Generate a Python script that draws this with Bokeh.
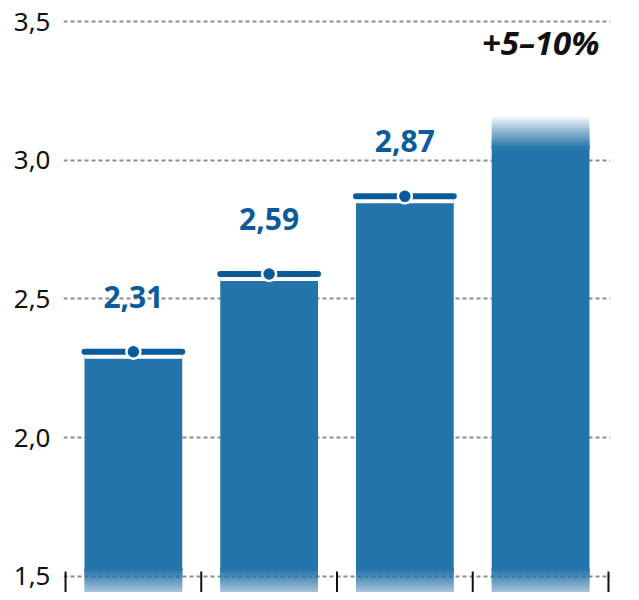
import numpy as np
from bokeh.plotting import figure
from bokeh.models import Range1d, FixedTicker
from bokeh.core.properties import value
from bokeh.embed import file_html
from bokeh.resources import INLINE

# ---- data ----
periods = ["1", "2", "3", "4"]
actual = [2.31, 2.59, 2.87]
value_labels = ["2,31", "2,59", "2,87"]
forecast_solid = 3.04
forecast_top = 3.16
forecast_label = "+5–10%"
y_ticks = [1.5, 2.0, 2.5, 3.0, 3.5]
y_tick_labels = ["1,5", "2,0", "2,5", "3,0", "3,5"]

BAR = "#2474ac"
DARK = "#0b5b9b"
FONT = "Noto Sans"

n = len(periods)
xs = np.arange(n) + 0.5
W = 0.72
y_lo, y_hi = 1.4423, 3.5757
fade_top = 1.53


def layer_alphas(targets):
    """per-layer alpha for nested layers so the composite follows targets"""
    out = []
    prev = 0.0
    for t in targets:
        out.append(1 - (1 - t) / (1 - prev))
        prev = t
    return out


p = figure(width=631, height=592,
           x_range=Range1d(-0.015, n + 0.015), y_range=Range1d(y_lo, y_hi),
           output_backend="svg", toolbar_location=None,
           x_axis_location=None,
           min_border_left=63, min_border_right=21,
           min_border_top=0, min_border_bottom=0)
p.outline_line_color = None
p.xgrid.visible = False
p.ygrid.grid_line_color = "#8c8c8c"
p.ygrid.grid_line_dash = "4 3"
p.ygrid.grid_line_width = 2

ax = p.yaxis[0]
ax.ticker = FixedTicker(ticks=y_ticks)
ax.major_label_overrides = {t: l for t, l in zip(y_ticks, y_tick_labels)}
ax.axis_line_color = None
ax.major_tick_line_color = None
ax.minor_tick_line_color = None
ax.major_tick_in = 0
ax.major_tick_out = 0
ax.major_label_standoff = 13
ax.major_label_text_font = FONT
ax.major_label_text_font_size = "26px"
ax.major_label_text_color = "#111111"

# solid bars
p.vbar(x=xs[:3], width=W, bottom=fade_top, top=actual, color=BAR, line_color=None)
p.vbar(x=[xs[3]], width=W, bottom=fade_top, top=forecast_solid, color=BAR, line_color=None)

k = 24
# bottom fade (all bars): nested layers from fade_top down to each edge
lo_edges = np.linspace(y_lo - 0.03, fade_top, k + 1)[:-1]
targets = [0.15 + 0.85 * (i + 1) / k for i in range(k)]
targets[-1] = 0.999
for e, a in zip(lo_edges, layer_alphas(targets)):
    p.quad(left=xs - W / 2, right=xs + W / 2, bottom=e, top=fade_top,
           fill_color=BAR, fill_alpha=a, line_color=None)

# top fade (forecast bar): nested layers from forecast_solid up to each edge
hi_edges = np.linspace(forecast_top, forecast_solid, k + 1)[:-1]
targets2 = [(i + 1) / k for i in range(k)]
targets2[-1] = 0.999
for e, a in zip(hi_edges, layer_alphas(targets2)):
    p.quad(left=[xs[3] - W / 2], right=[xs[3] + W / 2], bottom=forecast_solid, top=e,
           fill_color=BAR, fill_alpha=a, line_color=None)

# value markers
ax_x = xs[:3]
p.segment(x0=ax_x - W / 2, x1=ax_x + W / 2, y0=actual, y1=actual,
          line_color="white", line_width=14, line_cap="butt")
p.segment(x0=ax_x - W / 2, x1=ax_x + W / 2, y0=actual, y1=actual,
          line_color=DARK, line_width=6, line_cap="round")
p.scatter(ax_x, actual, size=14, fill_color=DARK, line_color="white", line_width=2.5)

p.text(ax_x, actual, text=value_labels, text_align="center", text_baseline="middle",
       y_offset=-55, text_font=value(FONT), text_font_style="bold",
       text_font_size="30px", text_color=DARK)

p.text(x=[xs[3] + W / 2], y=[y_ticks[-1]], text=[forecast_label], text_align="right",
       text_baseline="middle", x_offset=10, y_offset=21, text_font=value(FONT),
       text_font_style="bold italic", text_font_size="33px", text_color="#111111")

# category boundary ticks
b = np.arange(n + 1)
p.segment(x0=b, x1=b, y0=y_lo, y1=y_ticks[0] + 0.018, line_color="#111111", line_width=2)

open("out.html", "w").write(file_html(p, INLINE))
